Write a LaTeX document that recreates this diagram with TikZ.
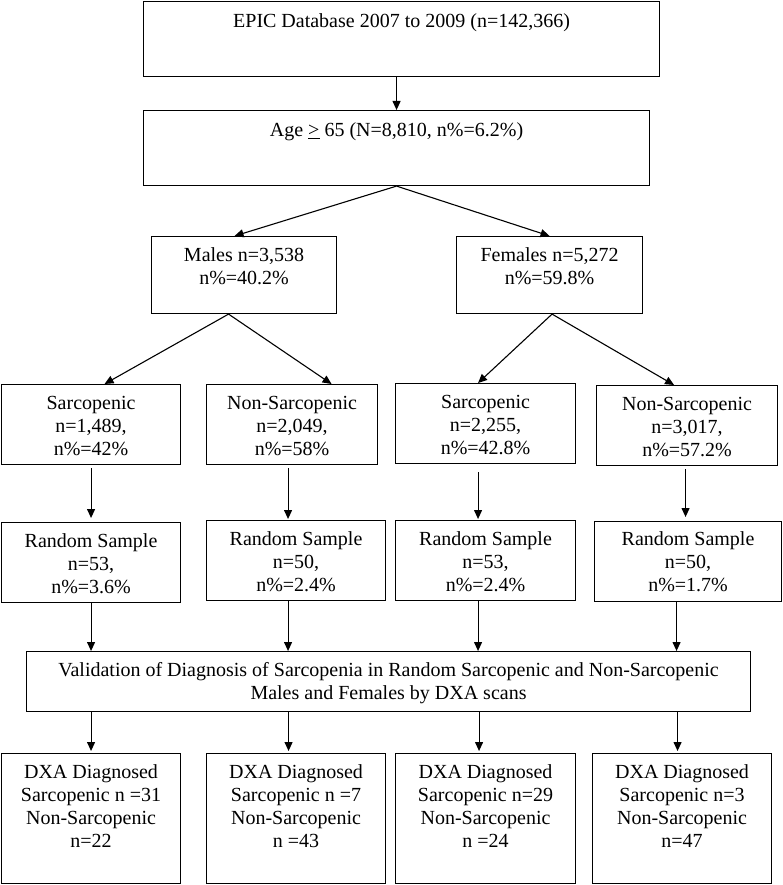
\documentclass[tikz,border=0pt]{standalone}
\usepackage{fontspec}
\setmainfont{Liberation Serif}
\usetikzlibrary{arrows.meta}
\newcommand{\bxt}[4]{\parbox[c][#2pt][t]{#1pt}{\centering\vspace*{#3pt}\strut #4}}
\tikzset{
  box/.style={draw, line width=1.1pt, inner sep=0pt, anchor=north west, font=\fontsize{20}{23}\selectfont},
  arr/.style={line width=1.1pt, -{Triangle[length=9pt,width=8pt]}}
}
\begin{document}
\begin{tikzpicture}[x=1pt,y=-1pt]
\useasboundingbox (0,0) rectangle (782,885);
% row 1-2
\node[box] (top) at (143,1) {\bxt{516}{75}{10}{EPIC Database 2007 to 2009 (n=142,366)}};
\node[box] (age) at (143,110) {\bxt{506}{75}{10}{Age \underline{>} 65 (N=8,810, n\%=6.2\%)}};
% row 3
\node[box] (males) at (151,236) {\bxt{185}{77}{9}{Males n=3,538\\ n\%=40.2\%}};
\node[box] (females) at (456,236) {\bxt{186}{77}{9}{Females n=5,272\\ n\%=59.8\%}};
% row 4
\node[box] (sm) at (1,384) {\bxt{179}{80}{9}{Sarcopenic\\ n=1,489,\\ n\%=42\%}};
\node[box] (nsm) at (206,384) {\bxt{171}{80}{9}{Non-Sarcopenic\\ n=2,049,\\ n\%=58\%}};
\node[box] (sf) at (395,383) {\bxt{180}{80}{9}{Sarcopenic\\ n=2,255,\\ n\%=42.8\%}};
\node[box] (nsf) at (596,385) {\bxt{181}{80}{9}{Non-Sarcopenic\\ n=3,017,\\ n\%=57.2\%}};
% row 5
\node[box] (rs1) at (1,522) {\bxt{179}{80}{9}{Random Sample\\ n=53,\\ n\%=3.6\%}};
\node[box] (rs2) at (206,520) {\bxt{179}{80}{9}{Random Sample\\ n=50,\\ n\%=2.4\%}};
\node[box] (rs3) at (395,520) {\bxt{180}{80}{9}{Random Sample\\ n=53,\\ n\%=2.4\%}};
\node[box] (rs4) at (594,521) {\bxt{187}{80}{8}{Random Sample\\ n=50,\\ n\%=1.7\%}};
% validation
\node[box] (val) at (26,651) {\bxt{724}{60}{9}{Validation of Diagnosis of Sarcopenia in Random Sarcopenic and Non-Sarcopenic\\ Males and Females by DXA scans}};
% row 6
\node[box] (d1) at (1,753) {\bxt{179}{130}{9}{DXA Diagnosed\\ Sarcopenic n =31\\ Non-Sarcopenic\\ n=22}};
\node[box] (d2) at (206,753) {\bxt{179}{130}{9}{DXA Diagnosed\\ Sarcopenic n =7\\ Non-Sarcopenic\\ n =43}};
\node[box] (d3) at (395,753) {\bxt{180}{130}{9}{DXA Diagnosed\\ Sarcopenic n=29\\ Non-Sarcopenic\\ n =24}};
\node[box] (d4) at (592,753) {\bxt{179}{130}{9}{DXA Diagnosed\\ Sarcopenic n=3\\ Non-Sarcopenic\\ n=47}};
% arrows
\draw[arr] (age.north |- top.south) -- (age.north);
\draw[arr] (age.south) -- ([xshift=-9.5pt]males.north);
\draw[arr] (age.south) -- (females.north);
\draw[arr] ([xshift=-15.5pt]males.south) -- ([xshift=13.5pt]sm.north);
\draw[arr] ([xshift=-15.5pt]males.south) -- ([xshift=39.5pt]nsm.north);
\draw[arr] ([xshift=2.5pt]females.south) -- ([xshift=-7.5pt]sf.north);
\draw[arr] ([xshift=2.5pt]females.south) -- ([xshift=-13pt]nsf.north);
\draw[arr, shorten <=3pt, shorten >=4pt] (rs1.north |- sm.south) -- (rs1.north);
\draw[arr, shorten <=3pt, shorten >=1pt] ([xshift=-8pt]rs2.north |- nsm.south) -- ([xshift=-8pt]rs2.north);
\draw[arr, shorten <=8pt, shorten >=1pt] ([xshift=-7.5pt]rs3.north |- sf.south) -- ([xshift=-7.5pt]rs3.north);
\draw[arr, shorten <=3pt, shorten >=4pt] ([xshift=-2.5pt]rs4.north |- nsf.south) -- ([xshift=-2.5pt]rs4.north);
\draw[arr] (rs1.south) -- (rs1.south |- val.north);
\draw[arr] ([xshift=-8pt]rs2.south) -- ([xshift=-8pt]rs2.south |- val.north);
\draw[arr] ([xshift=-7.5pt]rs3.south) -- ([xshift=-7.5pt]rs3.south |- val.north);
\draw[arr] ([xshift=-11.5pt]rs4.south) -- ([xshift=-11.5pt]rs4.south |- val.north);
\draw[arr, shorten >=2pt] (d1.north |- val.south) -- (d1.north);
\draw[arr, shorten >=2pt] ([xshift=-7.5pt]d2.north |- val.south) -- ([xshift=-7.5pt]d2.north);
\draw[arr, shorten >=2pt] ([xshift=-6.5pt]d3.north |- val.south) -- ([xshift=-6.5pt]d3.north);
\draw[arr, shorten >=2pt] ([xshift=-4.5pt]d4.north |- val.south) -- ([xshift=-4.5pt]d4.north);
\end{tikzpicture}
\end{document}
